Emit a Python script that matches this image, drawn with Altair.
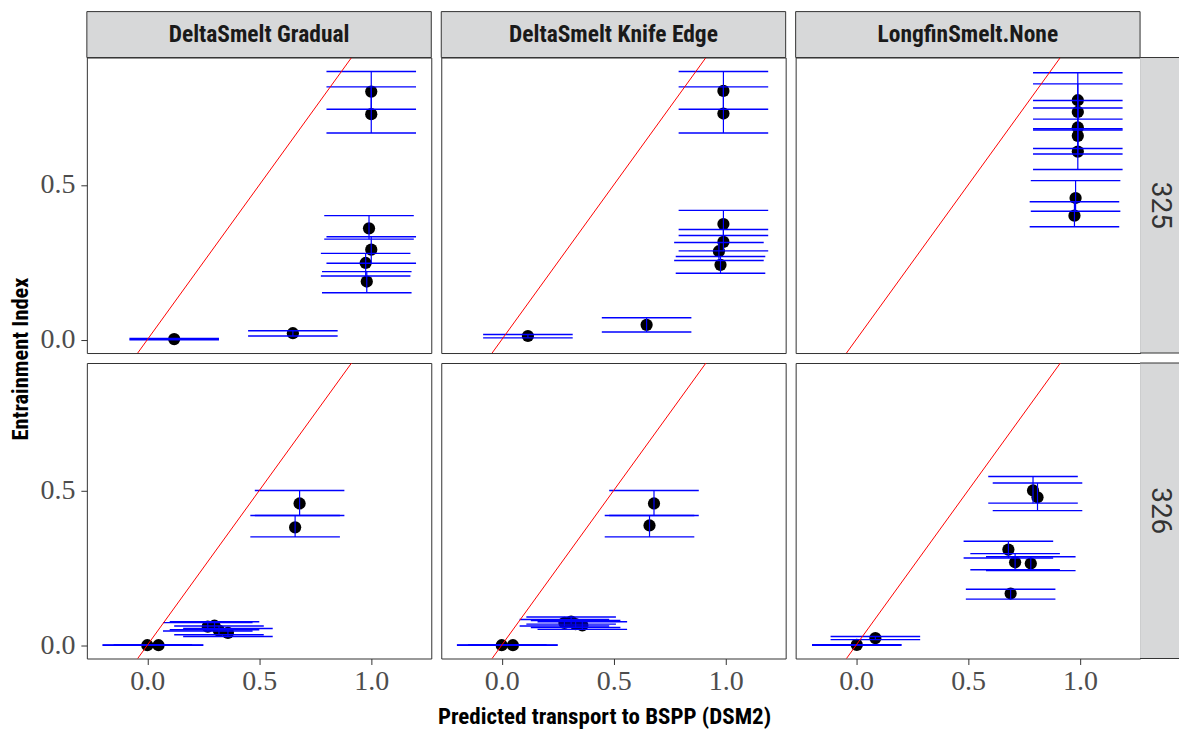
import altair as alt
import pandas as pd

COLS = ["DeltaSmelt Gradual", "DeltaSmelt Knife Edge", "LongfinSmelt.None"]
ROWS = ["325", "326"]

# ---- DeltaSmelt Gradual / 325
g325_x = [1.00, 1.00, 0.99, 1.00, 0.975, 0.98, 0.12, 0.65]
g325_y = [0.802, 0.729, 0.360, 0.291, 0.248, 0.188, 0.002, 0.021]
g325_lo = [0.745, 0.668, 0.325, 0.247, 0.206, 0.152, 0.000, 0.012]
g325_hi = [0.867, 0.817, 0.401, 0.333, 0.279, 0.220, 0.004, 0.029]
# ---- DeltaSmelt Knife Edge / 325
k325_x = [0.99, 0.99, 0.99, 0.99, 0.97, 0.977, 0.117, 0.647]
k325_y = [0.804, 0.731, 0.374, 0.316, 0.286, 0.242, 0.012, 0.048]
k325_lo = [0.745, 0.668, 0.337, 0.287, 0.256, 0.215, 0.006, 0.025]
k325_hi = [0.867, 0.817, 0.418, 0.356, 0.314, 0.269, 0.017, 0.071]
# ---- LongfinSmelt.None / 325
l325_x = [0.99, 0.99, 0.99, 0.99, 0.99, 0.98, 0.975]
l325_y = [0.774, 0.736, 0.686, 0.659, 0.608, 0.458, 0.401]
l325_lo = [0.713, 0.678, 0.618, 0.600, 0.550, 0.415, 0.365]
l325_hi = [0.863, 0.827, 0.773, 0.749, 0.682, 0.514, 0.446]
# ---- DeltaSmelt Gradual / 326
g326_x = [0.68, 0.66, 0.00, 0.05, 0.27, 0.30, 0.32, 0.36]
g326_y = [0.458, 0.381, 0.0, 0.0, 0.060, 0.063, 0.047, 0.040]
g326_lo = [0.419, 0.350, 0.0, 0.0, 0.046, 0.050, 0.034, 0.028]
g326_hi = [0.500, 0.419, 0.001, 0.001, 0.073, 0.076, 0.062, 0.054]
# ---- DeltaSmelt Knife Edge / 326
k326_x = [0.68, 0.66, 0.00, 0.05, 0.28, 0.31, 0.33, 0.36]
k326_y = [0.458, 0.387, 0.0, 0.0, 0.072, 0.076, 0.068, 0.064]
k326_lo = [0.419, 0.350, 0.0, 0.0, 0.062, 0.068, 0.057, 0.051]
k326_hi = [0.500, 0.419, 0.001, 0.001, 0.083, 0.091, 0.080, 0.076]
# ---- LongfinSmelt.None / 326
l326_x = [0.79, 0.81, 0.68, 0.71, 0.78, 0.69, 0.003, 0.086]
l326_y = [0.500, 0.478, 0.309, 0.268, 0.264, 0.167, 0.001, 0.023]
l326_lo = [0.459, 0.435, 0.282, 0.244, 0.241, 0.149, 0.0, 0.018]
l326_hi = [0.545, 0.524, 0.336, 0.296, 0.286, 0.181, 0.002, 0.028]

# 1:1 reference line endpoints
REF = [-0.3, 1.3]
TICKS_X = [0.0, 0.5, 1.0]
TICKS_Y = [0.0, 0.5]

PANELS = {
    (0, 0): (g325_x, g325_y, g325_lo, g325_hi),
    (1, 0): (k325_x, k325_y, k325_lo, k325_hi),
    (2, 0): (l325_x, l325_y, l325_lo, l325_hi),
    (0, 1): (g326_x, g326_y, g326_lo, g326_hi),
    (1, 1): (k326_x, k326_y, k326_lo, k326_hi),
    (2, 1): (l326_x, l326_y, l326_lo, l326_hi),
}

CAP = 0.2
X_DOMAIN = [-0.27, 1.268]
Y_DOMAIN = [-0.043, 0.912]
W, H = 345, 296
STRIP_H = 46
STRIP_W = 39
BLUE = "#0000FF"
BORDER = "#333333"
STRIP_FILL = "#D7D8D9"
COND = "Roboto Condensed, Liberation Sans Narrow, Arial Narrow, DejaVu Sans Condensed, Roboto, sans-serif"
SERIF = "Liberation Serif, Times New Roman, serif"


def panel(ci, ri):
    xs, ys, lo, hi = PANELS[(ci, ri)]
    df = pd.DataFrame({"x": xs, "y": ys, "lo": lo, "hi": hi})
    df["cl"] = df["x"] - CAP
    df["cr"] = df["x"] + CAP
    caps = pd.concat([df.assign(cy=df["lo"]), df.assign(cy=df["hi"])], ignore_index=True)

    xs_ = alt.Scale(domain=X_DOMAIN, nice=False, zero=False)
    ys_ = alt.Scale(domain=Y_DOMAIN, nice=False, zero=False)
    if ri == 1:
        xaxis = alt.Axis(values=TICKS_X, format=".1f", title=None, grid=False, domain=False,
                         labelFont=SERIF, labelFontSize=28, labelColor="#4D4D4D",
                         tickColor=BORDER, tickSize=6, labelPadding=3)
    else:
        xaxis = None
    if ci == 0:
        yaxis = alt.Axis(values=TICKS_Y, format=".1f", title=None, grid=False, domain=False,
                         labelFont=SERIF, labelFontSize=28, labelColor="#4D4D4D",
                         tickColor=BORDER, tickSize=6, labelPadding=6)
    else:
        yaxis = None

    X = lambda f: alt.X(f"{f}:Q", scale=xs_, axis=xaxis)
    Y = lambda f: alt.Y(f"{f}:Q", scale=ys_, axis=yaxis)

    layers = []
    pts = alt.Chart(df).mark_circle(size=150, color="black", opacity=1).encode(x=X("x"), y=Y("y"))
    vbars = alt.Chart(df).mark_rule(color=BLUE, strokeWidth=1.2).encode(x=X("x"), y=Y("lo"), y2="hi")
    capl = alt.Chart(caps).mark_rule(color=BLUE, strokeWidth=1.4).encode(x=X("cl"), x2="cr", y=Y("cy"))
    ref = alt.Chart(pd.DataFrame({"rx": REF, "ry": REF})).mark_line(
        color="#FF0000", strokeWidth=1, clip=True).encode(x=X("rx"), y=Y("ry"))
    layers += [pts, vbars, capl, ref]

    one = pd.DataFrame({"col": [COLS[ci]], "row": [ROWS[ri]]})
    if ri == 0:
        layers.append(alt.Chart(one).mark_rect(fill=STRIP_FILL, stroke=BORDER, strokeWidth=1).encode(
            x=alt.value(0), x2=alt.value(W), y=alt.value(-STRIP_H), y2=alt.value(0)))
        layers.append(alt.Chart(one).mark_text(font=COND, fontSize=23.5, fontWeight="bold",
                                               color="#1A1A1A", baseline="middle").encode(
            x=alt.value(W / 2), y=alt.value(-STRIP_H / 2), text="col:N"))
    if ci == 2:
        layers.append(alt.Chart(one).mark_rect(fill=STRIP_FILL).encode(
            x=alt.value(W), x2=alt.value(W + STRIP_W), y=alt.value(0), y2=alt.value(H)))
        for yy in (0, H):
            layers.append(alt.Chart(one).mark_rule(color=BORDER, strokeWidth=1).encode(
                x=alt.value(W), x2=alt.value(W + STRIP_W), y=alt.value(yy)))
        layers.append(alt.Chart(one).mark_text(font="Roboto, sans-serif", fontSize=28, angle=90,
                                               color="#333333", baseline="middle", align="center").encode(
            x=alt.value(W + STRIP_W / 2), y=alt.value(H / 2), text="row:N"))
    if ci == 0 and ri == 0:
        # anchor of the canvas top-left corner
        layers.append(alt.Chart(one).mark_rect(opacity=0).encode(
            x=alt.value(-86), x2=alt.value(0), y=alt.value(-56), y2=alt.value(0)))
    if ci == 0 and ri == 1:
        layers.append(alt.Chart(one).mark_text(font=COND, fontSize=22.5, fontWeight="bold",
                                               color="#000000", angle=270, baseline="middle",
                                               align="center").encode(
            x=alt.value(-66), y=alt.value(-4), text=alt.value("Entrainment Index")))
    if ci == 1 and ri == 1:
        layers.append(alt.Chart(one).mark_text(font=COND, fontSize=23, fontWeight="bold",
                                               color="#000000", baseline="middle",
                                               align="center").encode(
            x=alt.value(W / 2 - 9), y=alt.value(H + 59), text=alt.value("Predicted transport to BSPP (DSM2)")))
        layers.append(alt.Chart(one).mark_rect(opacity=0).encode(
            x=alt.value(0), x2=alt.value(W), y=alt.value(H), y2=alt.value(H + 72)))

    return alt.layer(*layers).properties(
        width=W, height=H, view=alt.ViewBackground(stroke=BORDER, strokeWidth=1, fill="white"))


panels = [panel(ci, ri) for ri in range(2) for ci in range(3)]

chart = alt.concat(*panels, columns=3, spacing=10, bounds="flush").properties(
    padding={"left": 0, "top": 0, "right": 0, "bottom": 0}
).configure_view(stroke=BORDER, strokeWidth=1).configure(background="white")

chart.save("out.html", embed_options={"renderer": "svg", "actions": False})
